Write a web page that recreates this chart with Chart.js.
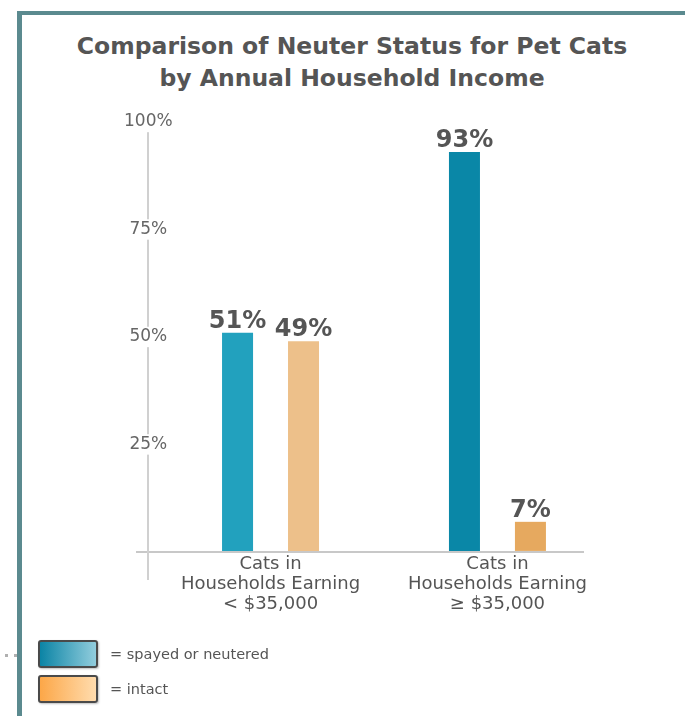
<!DOCTYPE html>
<html>
<head>
<meta charset="utf-8">
<title>Comparison of Neuter Status for Pet Cats</title>
<script src="https://cdn.jsdelivr.net/npm/chart.js@4.4.0/dist/chart.umd.min.js"></script>
<style>
    html, body { margin: 0; padding: 0; background: #fff; }
    #wrap { position: relative; width: 685px; height: 716px; overflow: hidden; }
    #chart { position: absolute; left: 0; top: 0; }
    .frame-top { position: absolute; left: 17px; top: 11px; width: 668px; height: 4px; background: #5b8a8f; }
    .frame-left { position: absolute; left: 17px; top: 11px; width: 5px; height: 705px; background: #5b8a8f; }
    .dot { position: absolute; top: 654px; width: 3px; height: 3px; background: #b0b0b0; }
    #title { position: absolute; left: 0; top: 30px; width: 704px; text-align: center; font: bold 23.5px/32px 'DejaVu Sans'; color: #555; white-space: nowrap; }
    #legend { position: absolute; left: 38px; top: 640px; font-family: 'DejaVu Sans'; font-size: 14.5px; color: #555; }
    .legend-item { display: flex; align-items: center; height: 28px; margin-bottom: 7px; }
    .legend-box { box-sizing: border-box; width: 60px; height: 28px; border: 2px solid #4a4a4a; border-radius: 3px; box-shadow: 1px 1px 2px rgba(0,0,0,.25); margin-right: 12px; }
</style>
</head>
<body>
<div id="wrap">
    <div class="frame-top"></div>
    <div class="frame-left"></div>
    <div class="dot" style="left:5px"></div>
    <div class="dot" style="left:14px"></div>
    <div id="title">Comparison of Neuter Status for Pet Cats<br>by Annual Household Income</div>
    <canvas id="chart" width="685" height="716"></canvas>
    <div id="legend"></div>
</div>
<script>
// Dữ liệu của biểu đồ
const categories = [
    ['Cats in', 'Households Earning', '< $35,000'],
    ['Cats in', 'Households Earning', '≥ $35,000']
];
const seriesNames = ['spayed or neutered', 'intact'];
const spayedValues = [51, 93];
const intactValues = [49, 7];
const yTicks = [0, 25, 50, 75, 100];

// Màu sắc
const spayedColors = ['#22a1be', '#0a87a7'];
const intactColors = ['#edc08a', '#e6a95f'];
const legendFills = [['#0b84a5', '#92cddd'], ['#fca748', '#ffdcae']];

Chart.defaults.font.family = "'DejaVu Sans'";

// Nhãn giá trị trên đầu mỗi cột
const valueLabels = {
    id: 'valueLabels',
    afterDatasetsDraw(chart) {
        const ctx = chart.ctx;
        ctx.save();
        ctx.font = "bold 24px 'DejaVu Sans'";
        ctx.fillStyle = '#555';
        ctx.textAlign = 'center';
        ctx.textBaseline = 'alphabetic';
        chart.data.datasets.forEach((ds, i) => {
            chart.getDatasetMeta(i).data.forEach((bar, j) => {
                ctx.fillText(ds.data[j].y + '%', bar.x, bar.y - 5);
            });
        });
        ctx.restore();
    }
};

const chart = new Chart(document.getElementById('chart'), {
    type: 'bar',
    data: {
        datasets: [
            {
                label: seriesNames[0],
                data: spayedValues.map((v, i) => ({ x: i, y: v })),
                backgroundColor: spayedColors
            },
            {
                label: seriesNames[1],
                data: intactValues.map((v, i) => ({ x: i, y: v })),
                backgroundColor: intactColors
            }
        ]
    },
    options: {
        responsive: false,
        animation: false,
        categoryPercentage: 0.5815,
        barPercentage: 0.47,
        layout: { padding: { left: 122, right: 102, top: 122, bottom: 137 } },
        scales: {
            x: {
                type: 'linear',
                bounds: 'data',
                offset: false,
                min: -0.54,
                max: 1.377,
                position: { y: 0 },
                afterBuildTicks: s => { s.ticks = categories.map((c, i) => ({ value: i })); },
                ticks: {
                    callback: v => categories[v],
                    font: { size: 18, lineHeight: 1.12 },
                    color: '#555',
                    padding: 2,
                    maxRotation: 0,
                    autoSkip: false
                },
                grid: { offset: false, drawOnChartArea: false, drawTicks: false },
                border: { color: '#c8c8c8', width: 2 }
            },
            y: {
                type: 'linear',
                bounds: 'data',
                min: -6.3,
                max: 100,
                afterBuildTicks: s => { s.ticks = yTicks.map(v => ({ value: v })); },
                afterFit: s => { s.width = 26; },
                ticks: {
                    callback: v => v === 0 ? '' : v + '%',
                    mirror: true,
                    crossAlign: 'center',
                    padding: -24,
                    font: { size: 17 },
                    color: '#666',
                    showLabelBackdrop: true,
                    backdropColor: c => c.tick && c.tick.value === 0 ? 'rgba(0,0,0,0)' : '#fff',
                    backdropPadding: { x: 3, y: 0 }
                },
                grid: {
                    drawOnChartArea: false,
                    drawTicks: true,
                    tickLength: 12,
                    lineWidth: 2,
                    color: c => c.tick && c.tick.value === 0 ? '#c8c8c8' : 'rgba(0,0,0,0)'
                },
                border: { color: '#d0d0d0', width: 2 }
            }
        },
        plugins: {
            legend: { display: false },
            tooltip: { enabled: false }
        }
    },
    plugins: [valueLabels]
});

// Chú thích (legend) dạng HTML
const legendEl = document.getElementById('legend');
chart.data.datasets.forEach((ds, i) => {
    const item = document.createElement('div');
    item.className = 'legend-item';
    item.innerHTML = `
        <div class="legend-box" style="background:linear-gradient(to right, ${legendFills[i][0]}, ${legendFills[i][1]})"></div>
        <span>= ${ds.label}</span>
    `;
    legendEl.appendChild(item);
});
</script>
</body>
</html>
